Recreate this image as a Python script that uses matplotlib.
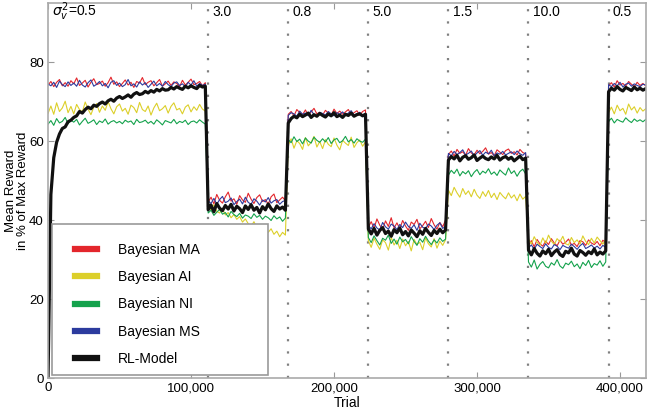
import numpy as np
import matplotlib
matplotlib.use("Agg")
import matplotlib.pyplot as plt
from matplotlib.patches import Rectangle
from matplotlib.ticker import FuncFormatter

plt.rcParams['font.family'] = ['Liberation Sans', 'DejaVu Sans']

#===DATA=======================================================================
# trials sampled every 2000, block switches every 56,000 trials after 112,000
trials = np.arange(0, 418001, 2000)
switch_trials = [112000, 168000, 224000, 280000, 336000, 392000]
sigma_labels = ['$\\sigma_v^2$=0.5', '3.0', '0.8', '5.0', '1.5', '10.0', '0.5']
label_trials = [0] + switch_trials
names = ['Bayesian MA', 'Bayesian AI', 'Bayesian NI', 'Bayesian MS', 'RL-Model']

bayes_ma = [
    74.2, 75.1, 73.8, 74.9, 75.6, 74.0, 74.8, 73.9, 75.3, 74.5, 76.0, 74.1, 74.7, 75.4,
    73.7, 74.9, 75.8, 74.3, 74.6, 75.2, 73.9, 74.8, 76.2, 74.4, 75.0, 73.8, 74.6, 75.5,
    74.2, 74.9, 73.6, 75.1, 74.7, 76.1, 74.3, 74.9, 75.3, 74.0, 74.8, 75.6, 73.9, 74.5,
    75.2, 74.1, 75.0, 74.6, 73.8, 75.4, 74.2, 74.9, 75.7, 74.3, 74.6, 75.1, 74.0, 74.8,
    44.6, 45.8, 44.1, 46.5, 45.0, 44.3, 45.9, 47.1, 44.8, 45.4, 44.0, 46.2, 45.1, 44.5,
    46.8, 45.3, 44.2, 45.7, 46.4, 44.7, 45.2, 44.0, 45.9, 46.6, 44.4, 45.1, 45.8, 44.9,
    66.8, 67.5, 66.4, 68.0, 67.2, 66.7, 67.9, 66.5, 67.4, 68.3, 66.9, 67.3, 66.6, 67.8,
    67.1, 66.5, 68.1, 67.0, 67.6, 66.8, 67.4, 68.0, 66.7, 67.2, 67.7, 66.6, 67.5, 67.9,
    38.2, 39.6, 37.9, 40.3, 38.7, 37.6, 39.8, 38.4, 40.6, 38.0, 39.3, 37.8, 39.9, 38.5,
    37.4, 39.5, 38.9, 40.2, 37.8, 38.6, 39.7, 38.1, 40.4, 38.8, 37.7, 39.4, 38.3, 40.0,
    56.6, 57.5, 56.2, 57.9, 56.9, 57.3, 56.4, 58.1, 57.0, 56.5, 57.7, 56.8, 57.4, 58.3,
    56.7, 57.1, 56.3, 57.8, 57.2, 56.6, 57.6, 58.0, 56.9, 57.3, 56.5, 57.9, 57.1, 56.8,
    33.6, 34.8, 33.2, 35.1, 34.0, 33.4, 34.7, 33.8, 35.3, 34.2, 33.5, 34.9, 33.9, 34.4,
    35.2, 33.7, 34.1, 33.3, 34.8, 34.5, 33.6, 35.0, 34.2, 33.8, 34.6, 33.5, 34.9, 34.3,
    74.0, 74.8, 73.7, 75.3, 74.2, 74.6, 73.9, 75.1, 74.4, 73.8, 74.9, 74.1, 74.6, 74.0,
]

bayes_ai = [
    67.0, 68.9, 66.8, 69.7, 67.5, 68.4, 70.1, 67.2, 68.8, 66.9, 69.3, 68.0, 67.4, 69.9,
    68.1, 66.7, 68.6, 69.5, 67.3, 68.9, 67.8, 70.0, 68.2, 66.9, 68.7, 69.4, 67.6, 68.3,
    66.8, 69.1, 68.5, 67.2, 69.8, 68.0, 67.5, 68.9, 66.6, 68.4, 69.6, 67.7, 68.2, 69.0,
    67.1, 68.8, 69.7, 67.9, 68.3, 66.9, 68.6, 69.2, 67.4, 68.7, 67.8, 69.3, 68.1, 67.6,
    43.5, 42.6, 43.9, 42.2, 41.8, 42.9, 41.3, 41.9, 40.6, 41.4, 40.2, 40.9, 39.5, 40.3,
    39.1, 38.4, 39.6, 38.0, 38.8, 37.5, 38.3, 36.9, 37.8, 36.4, 37.2, 35.8, 36.9, 36.2,
    59.0, 60.6, 58.2, 60.1, 59.4, 57.9, 60.9, 58.8, 59.7, 61.2, 58.5, 59.9, 58.1, 60.4,
    59.2, 58.6, 60.8, 59.0, 57.8, 60.2, 59.5, 58.9, 61.0, 58.4, 59.6, 60.3, 58.7, 59.8,
    34.8, 33.1, 35.4, 33.9, 32.6, 35.0, 34.3, 32.4, 35.6, 33.7, 34.9, 32.8, 35.2, 33.5,
    34.6, 32.2, 35.1, 33.8, 34.4, 32.5, 35.5, 34.0, 33.2, 35.3, 32.9, 34.7, 33.6, 35.0,
    47.6, 46.2, 48.3, 46.9, 45.8, 48.0, 46.5, 47.4, 45.9, 47.8, 46.3, 45.5, 47.2, 46.0,
    47.5, 45.7, 46.8, 45.2, 47.0, 46.1, 45.4, 46.9, 45.6, 46.4, 44.9, 46.6, 45.3, 46.0,
    35.2, 33.9, 35.8, 34.4, 33.6, 35.5, 34.1, 36.2, 34.7, 33.8, 35.3, 34.5, 35.9, 34.0,
    33.7, 35.6, 34.3, 35.0, 33.9, 36.0, 34.6, 33.8, 35.4, 34.2, 35.7, 34.8, 33.9, 35.1,
    67.2, 68.6, 66.9, 69.1, 67.7, 68.3, 66.8, 69.4, 67.9, 68.7, 67.1, 68.5, 67.6, 68.2,
]

bayes_ni = [
    64.3, 65.2, 64.0, 65.7, 64.6, 65.0, 66.0, 64.4, 65.3, 64.8, 65.5, 64.1, 65.0, 65.8,
    64.5, 64.9, 65.4, 64.2, 65.1, 64.7, 65.6, 64.3, 64.9, 65.2, 64.6, 65.0, 64.4, 65.3,
    64.8, 65.1, 64.2, 65.5, 64.7, 64.9, 65.3, 64.5, 65.0, 64.3, 65.4, 64.8, 64.1, 65.2,
    64.9, 64.6, 65.5, 64.4, 65.0, 64.7, 65.3, 64.2, 64.9, 65.1, 64.6, 65.4, 64.8, 64.3,
    41.8, 42.5, 41.2, 42.0, 42.7, 41.5, 41.9, 40.8, 42.2, 41.4, 40.9, 41.7, 40.5, 41.3,
    41.0, 40.4, 41.6, 40.7, 41.2, 40.2, 41.0, 40.6, 39.9, 41.1, 40.3, 40.8, 39.7, 40.5,
    60.4, 59.6, 61.1, 59.9, 60.5, 59.3, 60.8, 60.0, 59.5, 61.0, 60.2, 59.7, 60.6, 59.8,
    60.9, 59.4, 60.3, 60.7, 59.6, 60.1, 61.2, 59.8, 60.4, 59.5, 60.6, 60.0, 59.7, 60.5,
    35.6, 34.3, 36.0, 34.8, 33.7, 35.4, 34.9, 36.2, 34.1, 35.2, 33.9, 35.7, 34.5, 35.1,
    34.0, 35.8, 34.6, 33.6, 35.3, 34.4, 35.9, 34.7, 33.8, 35.0, 34.2, 35.5, 34.6, 35.2,
    51.4, 52.6, 51.8, 52.9, 51.2, 52.3, 51.7, 52.5, 51.0, 52.1, 52.8, 51.5, 52.4, 51.9,
    53.0, 51.6, 52.2, 51.3, 52.7, 52.0, 51.4, 53.2, 51.8, 52.5, 51.1, 52.3, 52.9, 51.7,
    29.4, 28.1, 29.9, 27.6, 28.8, 29.5, 28.3, 27.9, 29.2, 28.6, 30.0, 28.4, 27.8, 29.1,
    28.7, 29.6, 28.2, 28.9, 27.7, 29.3, 28.5, 29.8, 28.0, 29.0, 28.6, 29.7, 28.3, 29.4,
    65.0, 65.8, 64.6, 65.5, 65.1, 64.8, 65.9, 65.2, 64.7, 65.6, 65.0, 65.4, 64.9, 65.5,
]

bayes_ms = [
    74.5, 74.0, 74.9, 73.6, 75.2, 74.3, 73.8, 75.0, 74.1, 74.7, 73.9, 75.4, 74.2, 73.7,
    74.8, 75.5, 73.9, 74.4, 75.1, 74.0, 74.6, 73.5, 74.9, 75.3, 74.1, 74.7, 73.8, 74.3,
    75.6, 74.0, 74.5, 73.7, 75.0, 74.2, 74.8, 73.6, 74.4, 75.2, 74.0, 74.6, 73.9, 75.1,
    74.3, 73.8, 74.7, 75.0, 74.1, 74.5, 73.7, 74.9, 74.2, 75.3, 73.9, 74.6, 74.1, 74.4,
    44.9, 44.2, 45.5, 44.0, 45.2, 46.0, 44.4, 44.8, 45.6, 43.9, 44.7, 45.3, 44.1, 45.8,
    44.5, 44.0, 45.4, 44.8, 43.8, 45.1, 44.6, 45.7, 44.3, 44.9, 45.2, 44.0, 44.7, 45.0,
    66.5, 67.2, 66.9, 66.3, 67.6, 66.8, 67.1, 66.4, 67.8, 66.7, 66.2, 67.3, 67.0, 66.6,
    67.5, 66.9, 66.4, 67.2, 66.8, 67.4, 66.5, 67.1, 67.7, 66.6, 66.9, 67.3, 66.4, 67.0,
    38.6, 37.8, 39.1, 38.0, 37.5, 39.4, 38.3, 37.7, 39.0, 38.5, 37.6, 38.9, 38.1, 39.5,
    38.4, 37.9, 38.8, 37.4, 39.2, 38.2, 37.8, 39.0, 38.5, 37.6, 38.7, 39.3, 37.9, 38.4,
    56.9, 56.3, 57.4, 56.6, 57.1, 57.8, 56.5, 56.9, 57.5, 56.2, 57.0, 57.6, 56.4, 57.2,
    56.8, 57.7, 56.3, 57.0, 56.7, 57.4, 56.5, 56.9, 57.3, 56.6, 57.5, 56.8, 56.4, 57.1,
    33.0, 33.7, 32.6, 33.9, 33.3, 32.8, 34.0, 33.1, 32.7, 33.8, 33.4, 32.5, 33.6, 33.2,
    32.9, 33.9, 33.3, 32.6, 33.5, 34.1, 32.8, 33.2, 33.7, 32.9, 33.4, 32.7, 33.6, 33.1,
    74.3, 73.8, 74.6, 74.0, 74.9, 73.7, 74.4, 74.7, 73.9, 74.5, 74.1, 73.8, 74.4, 74.2,
]

rl_model = [
    0.0, 46.5, 55.8, 59.7, 61.8, 63.2, 63.6, 64.9, 65.3, 66.0, 66.4, 67.5, 67.1, 68.0,
    68.6, 68.2, 69.1, 68.8, 69.5, 69.9, 69.4, 70.2, 70.6, 70.1, 70.9, 71.3, 70.8, 71.2,
    71.7, 71.1, 71.9, 72.3, 71.8, 72.0, 72.6, 72.2, 72.8, 72.4, 73.1, 72.7, 73.3, 72.9,
    73.0, 73.6, 73.2, 73.8, 73.4, 73.1, 73.9, 73.5, 74.0, 73.6, 73.3, 74.1, 73.7, 73.9,
    42.6, 43.8, 42.1, 44.2, 43.0, 42.4, 43.7, 42.8, 44.0, 42.3, 43.5, 42.9, 41.9, 43.6,
    42.7, 43.9, 42.5, 43.2, 41.8, 43.4, 42.6, 44.1, 42.9, 42.2, 43.6, 42.8, 43.3, 42.5,
    64.6, 65.7, 66.3, 65.9, 66.8, 66.2, 66.6, 67.1, 66.0, 66.7, 66.3, 67.0, 66.5, 66.1,
    66.9, 66.4, 67.2, 66.2, 66.6, 66.0, 66.8, 66.5, 67.1, 66.3, 66.7, 66.9, 66.4, 66.8,
    37.8, 36.5, 37.9, 36.2, 37.4, 38.1, 36.6, 37.2, 35.9, 37.6, 36.8, 38.0, 36.3, 37.1,
    36.0, 37.5, 36.7, 35.8, 37.3, 36.4, 37.9, 36.9, 36.1, 37.4, 36.6, 37.7, 36.8, 37.5,
    55.2, 56.1, 55.5, 56.4, 55.0, 55.9, 56.3, 55.4, 55.8, 56.5, 55.1, 55.7, 56.2, 55.6,
    55.3, 56.0, 55.5, 56.4, 55.2, 55.8, 56.1, 55.4, 55.9, 55.0, 55.6, 56.2, 55.3, 55.7,
    32.4, 31.2, 32.8, 31.6, 30.9, 32.2, 31.5, 32.6, 31.0, 31.9, 32.5, 31.3, 30.8, 32.1,
    31.7, 32.9, 31.4, 30.9, 32.3, 31.8, 31.1, 32.0, 31.5, 32.7, 31.2, 31.9, 31.4, 32.2,
    72.5, 73.4, 72.9, 73.8, 73.1, 72.7, 73.6, 73.2, 72.8, 73.7, 73.0, 73.4, 72.9, 73.3,
]

#===PLOT=======================================================================
colors = ['#e3262c', '#dccf2a', '#14a24c', '#2c3b9e', '#111111']
widths = [0.8, 0.8, 0.8, 0.8, 2.3]
series = [bayes_ma, bayes_ai, bayes_ni, bayes_ms, rl_model]

fig = plt.figure(figsize=(6.49, 4.15), dpi=100)
ax = fig.add_axes([0.074, 0.089, 0.921, 0.904])

# draw order: MA, AI, NI, MS on top, RL-model last
for vals, c, lw, name in zip(series, colors, widths, names):
    ax.plot(trials, vals, color=c, lw=lw, label=name)

for xs in switch_trials:
    ax.axvline(xs, color='#808080', lw=1.6, ls=(0, (1, 4.5)), zorder=0)

for xs, lab in zip(label_trials, sigma_labels):
    ax.text(xs + 3000, 92.8, lab, fontsize=10, va='center', ha='left')

ax.set_xlim(0, 418000)
ax.set_ylim(0, 95)
ax.set_xticks([0, 100000, 200000, 300000, 400000])
ax.set_yticks([0, 20, 40, 60, 80])
ax.xaxis.set_major_formatter(FuncFormatter(lambda v, p: f"{int(v):,}"))
ax.tick_params(direction='in', top=True, right=True, labelsize=9.5,
               color='#999999', length=4, pad=3)
for sp in ax.spines.values():
    sp.set_color('#aaaaaa')
    sp.set_linewidth(1.2)

ax.set_xlabel('Trial', fontsize=10, labelpad=1)
ax.set_ylabel('Mean Reward\nin % of Max Reward', fontsize=9.5, linespacing=1.0)
ax.yaxis.set_label_coords(-0.031, 0.5)

# legend box
box = Rectangle((0.0067, 0.008), 0.361, 0.403, transform=ax.transAxes,
                facecolor='white', edgecolor='#999999', lw=1.2, zorder=5)
ax.add_patch(box)
leg = ax.legend(loc='upper left', bbox_to_anchor=(0.045, 0.36), frameon=False,
                fontsize=10, handlelength=1.6, handletextpad=1.5,
                labelspacing=0.95, borderpad=0, borderaxespad=0)
leg.set_zorder(6)
for h in leg.get_lines():
    h.set_linewidth(4.5)

fig.savefig('out.png', dpi=100)
